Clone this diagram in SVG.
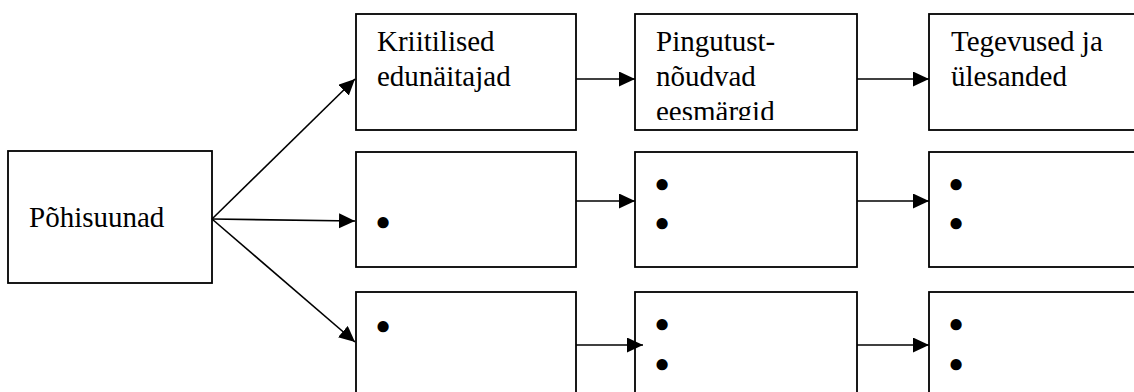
<svg xmlns="http://www.w3.org/2000/svg" width="1134" height="392" viewBox="0 0 1134 392">
<style>
.box{fill:#fff;stroke:#000;stroke-width:1.8}
.c{fill:none;stroke:#000;stroke-width:1.6;marker-end:url(#ah)}
.b{font-size:26px;text-anchor:middle}
</style>
<defs>
<marker id="ah" markerUnits="userSpaceOnUse" markerWidth="17" markerHeight="16" refX="16" refY="7.5" orient="auto">
<path d="M0,0 L16,7.5 L0,15 z" fill="#000"/>
</marker>
<clipPath id="clipP"><rect x="635" y="14" width="222" height="106"/></clipPath>
</defs>
<rect width="1134" height="392" fill="#fff"/>
<g font-family="Liberation Serif, Times New Roman, DejaVu Serif, serif" font-size="29" fill="#000">
<g id="n-pohisuunad"><rect class="box" x="8" y="151" width="204" height="132"/><text x="29" y="227">Põhisuunad</text></g>
<g id="n-kriitilised"><rect class="box" x="356" y="14" width="220" height="116"/><text x="377" y="51">Kriitilised</text><text x="377" y="86">edunäitajad</text></g>
<g id="n-pingutust"><rect class="box" x="635" y="14" width="222" height="116"/><g clip-path="url(#clipP)"><text x="656" y="51">Pingutust-</text><text x="656" y="86">nõudvad</text><text x="656" y="121">eesmärgid</text></g></g>
<g id="n-tegevused"><rect class="box" x="929" y="14" width="215" height="116"/><text x="951" y="51">Tegevused ja</text><text x="951" y="86">ülesanded</text></g>
<g id="n-r2c1"><rect class="box" x="356" y="152" width="220" height="115"/><text class="b" x="383" y="230">●</text></g>
<g id="n-r2c2"><rect class="box" x="635" y="152" width="222" height="115"/><text class="b" x="662" y="192">●</text><text class="b" x="662" y="231">●</text></g>
<g id="n-r2c3"><rect class="box" x="929" y="152" width="215" height="115"/><text class="b" x="956" y="192">●</text><text class="b" x="956" y="231">●</text></g>
<g id="n-r3c1"><rect class="box" x="356" y="292" width="220" height="115"/><text class="b" x="383" y="334">●</text></g>
<g id="n-r3c2"><rect class="box" x="635" y="292" width="222" height="115"/><text class="b" x="662" y="332">●</text><text class="b" x="662" y="372">●</text></g>
<g id="n-r3c3"><rect class="box" x="929" y="292" width="215" height="115"/><text class="b" x="956" y="332">●</text><text class="b" x="956" y="372">●</text></g>
</g>
<g id="connectors">
<line class="c" x1="212" y1="219" x2="355" y2="79"/>
<line class="c" x1="212" y1="219" x2="355" y2="221"/>
<line class="c" x1="212" y1="219" x2="355" y2="342"/>
<line class="c" x1="576" y1="79" x2="635" y2="79"/>
<line class="c" x1="857" y1="79" x2="929" y2="79"/>
<line class="c" x1="576" y1="201" x2="635" y2="201"/>
<line class="c" x1="857" y1="201" x2="929" y2="201"/>
<line class="c" x1="576" y1="345" x2="643" y2="345"/>
<line class="c" x1="857" y1="345" x2="929" y2="345"/>
</g>
</svg>
